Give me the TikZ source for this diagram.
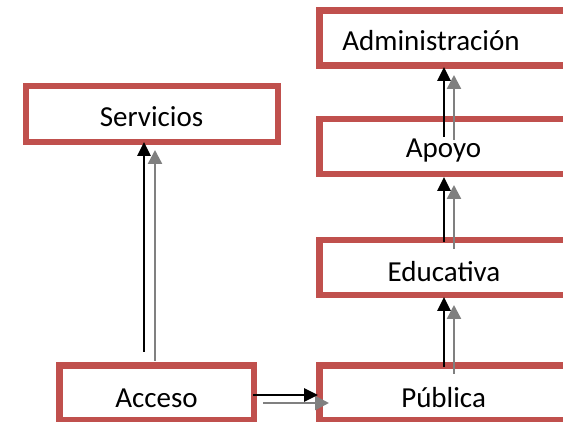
\documentclass[tikz,border=0pt]{standalone}
\usepackage{fontspec}
\setmainfont{Carlito}
\usetikzlibrary{arrows.meta}
\definecolor{rojo}{RGB}{192,80,77}
\definecolor{gris}{RGB}{128,128,128}
\tikzset{
  caja/.style={draw=rojo, line width=6.5pt, fill=white, inner sep=0pt, outer sep=0pt,
    minimum width=252pt, minimum height=55pt},
  cajaabierta/.style={caja, draw=none, minimum width=243.75pt},
  marco/.style={draw=rojo, line width=6.5pt},
  texto/.style={anchor=base, inner sep=0pt, font=\fontsize{29}{35}\selectfont},
  flecha/.style={line width=2.8pt, black, -{Triangle[length=14pt,width=13pt]}},
  sombra/.style={line width=2.4pt, gris, -{Triangle[length=14pt,width=14pt]}}
}
\begin{document}
\begin{tikzpicture}[x=1pt,y=1pt]
      \useasboundingbox (0,0) rectangle (563,-422) ;
      \fill[white] (0,0) rectangle (563,-422) ;
      % cajas (las de la derecha se salen del borde)
      \node[cajaabierta] (admin) at (441.125,-38.25) {} ;
      \node[cajaabierta] (apoyo) at (441.125,-146.5) {} ;
      \node[cajaabierta] (educativa) at (441.125,-267.5) {} ;
      \node[cajaabierta] (publica) at (441.125,-393) {} ;
      \foreach \c in {admin,apoyo,educativa,publica}
        \draw[marco] (\c.north east) -| (\c.south west) -- (\c.south east) ;
      \node[caja, minimum height=56pt] (servicios) at (152,-114) {} ;
      \node[caja, minimum width=194.5pt] (acceso) at (156.5,-393) {} ;
      % textos
      \node[texto] (tadmin) at (431,-51) {Administración} ;
      \node[texto] (tapoyo) at (443.5,-158) {Apoyo} ;
      \node[texto] (teducativa) at (444,-282) {Educativa} ;
      \node[texto] (tpublica) at (443.6,-407) {Pública} ;
      \node[texto] (tservicios) at (151.5,-127) {Servicios} ;
      \node[texto] (tacceso) at (156.5,-407) {Acceso} ;
      % flechas
      \draw[sombra] ([shift={(-1.5,4.5)}]acceso.north) -- ([shift={(3,-8)}]servicios.south) ;
      \draw[flecha] ([shift={(-12.5,13.5)}]acceso.north) -- ([shift={(-8,0)}]servicios.south) ;
      \draw[sombra] ([shift={(9.25,-10)}]acceso.east) -- ([shift={(9.75,-10)}]publica.west) ;
      \draw[flecha] ([shift={(-0.75,-2)}]acceso.east) -- ([shift={(-1.25,-2)}]publica.west) ;
      \draw[sombra] ([shift={(12.875,-8.5)}]publica.north) -- ([shift={(12.875,-10)}]educativa.south) ;
      \draw[flecha] ([shift={(2.875,-1.5)}]publica.north) -- ([shift={(2.875,-2)}]educativa.south) ;
      \draw[sombra] ([shift={(12.875,-9)}]educativa.north) -- ([shift={(12.875,-11)}]apoyo.south) ;
      \draw[flecha] ([shift={(2.875,-2)}]educativa.north) -- ([shift={(2.875,-3)}]apoyo.south) ;
      \draw[sombra] ([shift={(12.875,-21)}]apoyo.north) -- ([shift={(12.875,-9.25)}]admin.south) ;
      \draw[flecha] ([shift={(2.875,-18)}]apoyo.north) -- ([shift={(2.875,-1.25)}]admin.south) ;
\end{tikzpicture}
\end{document}
